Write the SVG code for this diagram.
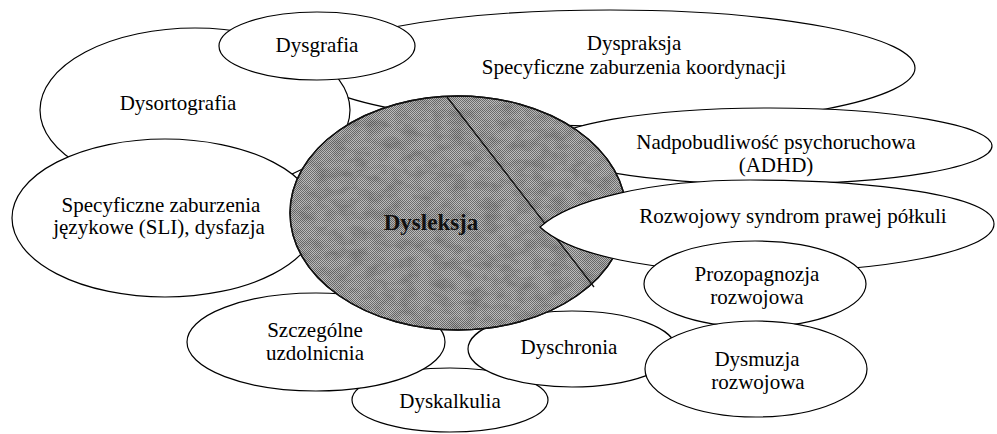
<svg xmlns="http://www.w3.org/2000/svg" width="997" height="434" viewBox="0 0 997 434">
<style>
.n{fill:#fff;stroke:#000;stroke-width:1.2}
.t{font-family:"Liberation Serif","Times New Roman",serif;font-size:21px;fill:#000;text-anchor:middle}
.c{fill:url(#dither);stroke:#111;stroke-width:1.4}
.b{font-family:"Liberation Serif","Times New Roman",serif;font-size:23px;font-weight:bold;fill:#111;text-anchor:middle}
</style>
<defs>
<pattern id="dither" width="2" height="2" patternUnits="userSpaceOnUse">
<rect width="2" height="2" fill="#bdbdbd"/>
<rect width="1" height="1" fill="#6e6e6e"/>
<rect x="1" y="1" width="1" height="1" fill="#6e6e6e"/>
</pattern>
<filter id="mottle" x="0" y="0" width="100%" height="100%">
<feTurbulence type="fractalNoise" baseFrequency="0.06 0.1" numOctaves="3" seed="7" result="n"/>
<feColorMatrix in="n" type="matrix" values="0 0 0 0 0  0 0 0 0 0  0 0 0 0 0  0 0 0 -1.6 1.0" result="a"/>
<feComposite in="a" in2="SourceGraphic" operator="in"/>
</filter>
</defs>
<rect width="997" height="434" fill="#fff"/>
<g id="dyspraksja"><ellipse class="n" cx="610" cy="68" rx="305" ry="58"/>
<text class="t" x="634" y="50">Dyspraksja</text>
<text class="t" x="634" y="74">Specyficzne zaburzenia koordynacji</text></g>
<g id="dysortografia"><ellipse class="n" cx="195" cy="110" rx="155" ry="82"/>
<text class="t" x="178" y="110">Dysortografia</text></g>
<g id="dysgrafia"><ellipse class="n" cx="317" cy="46" rx="98" ry="34"/>
<text class="t" x="317" y="52">Dysgrafia</text></g>
<g id="sli"><ellipse class="n" cx="165" cy="218" rx="153" ry="79"/>
<text class="t" x="161" y="212">Specyficzne zaburzenia</text>
<text class="t" x="159" y="234">językowe (SLI), dysfazja</text></g>
<g id="adhd"><ellipse class="n" cx="770" cy="146" rx="222" ry="38"/>
<text class="t" x="776" y="149">Nadpobudliwość psychoruchowa</text>
<text class="t" x="776" y="172">(ADHD)</text></g>
<g id="dyskalkulia"><ellipse class="n" cx="450" cy="400" rx="98" ry="32"/>
<text class="t" x="450" y="408">Dyskalkulia</text></g>
<g id="szczegolne"><ellipse class="n" cx="316" cy="342" rx="129" ry="49"/>
<text class="t" x="315" y="337">Szczególne</text>
<text class="t" x="315" y="360">uzdolnicnia</text></g>
<g id="dyschronia"><ellipse class="n" cx="572" cy="349" rx="104" ry="38"/>
<text class="t" x="569" y="354">Dyschronia</text></g>
<g id="dysleksja"><ellipse class="c" cx="458" cy="213" rx="168" ry="117"/>
<ellipse cx="458" cy="213" rx="167" ry="116" fill="#ffffff" opacity="0.22" filter="url(#mottle)"/>
<ellipse cx="458" cy="213" rx="168" ry="117" fill="none" stroke="#111" stroke-width="1.4"/>
<text class="b" x="431" y="230">Dysleksja</text></g>
<g id="connectors"><line x1="447" y1="97" x2="594" y2="287" stroke="#111" stroke-width="1.3"/></g>
<g id="rozwojowy"><path class="n" d="M540,227 C570,200 650,180 750,180 C870,180 994,195 994,224 C994,252 880,272 760,272 C650,272 570,255 540,227 Z"/>
<text class="t" x="793" y="223">Rozwojowy syndrom prawej półkuli</text></g>
<g id="prozopagnozja"><ellipse class="n" cx="755" cy="284" rx="111" ry="43"/>
<text class="t" x="757" y="281">Prozopagnozja</text>
<text class="t" x="757" y="304">rozwojowa</text></g>
<g id="dysmuzja"><ellipse class="n" cx="756" cy="369" rx="111" ry="48"/>
<text class="t" x="757" y="366">Dysmuzja</text>
<text class="t" x="758" y="389">rozwojowa</text></g>
</svg>
